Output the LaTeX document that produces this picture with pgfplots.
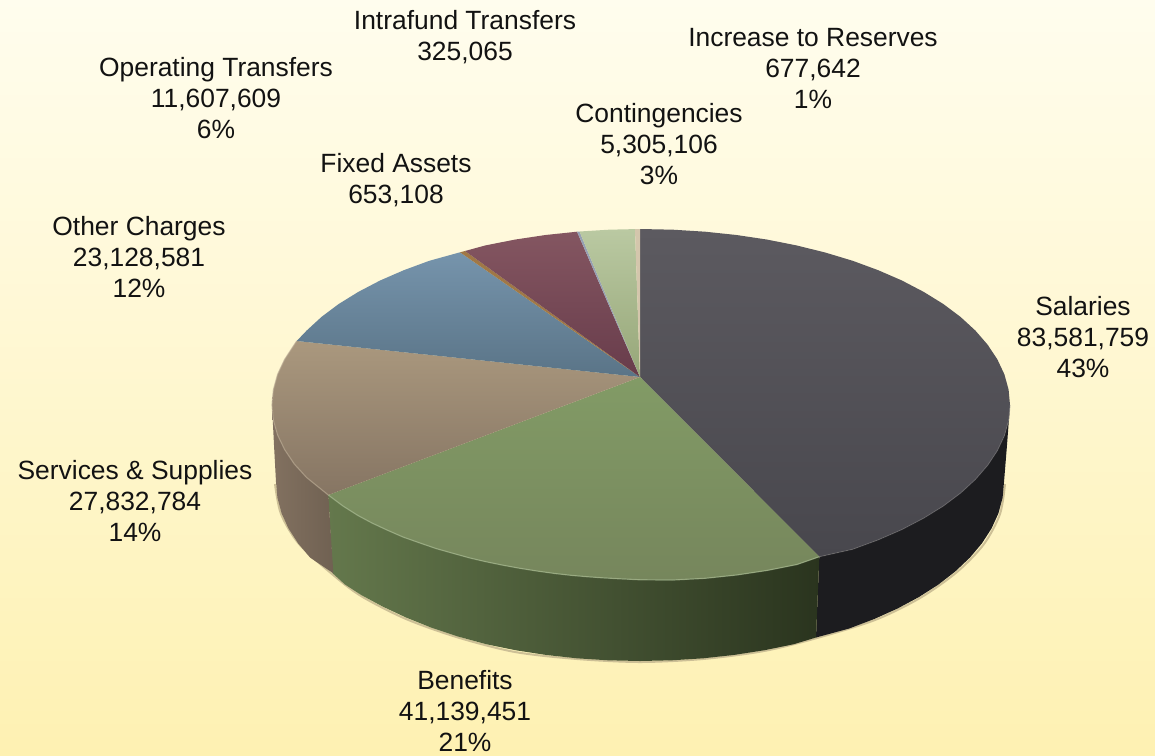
\documentclass[border=0pt]{standalone}
\usepackage{fontspec}
\setmainfont{Liberation Sans}
\usepackage{pgfplots}
\pgfplotsset{compat=1.18}
\definecolor{bgT}{RGB}{255,253,238}
\definecolor{bgB}{RGB}{254,241,178}
\definecolor{salT}{RGB}{92,90,96}
\definecolor{salB}{RGB}{72,71,77}
\definecolor{salS}{RGB}{28,28,31}
\definecolor{benT}{RGB}{130,155,102}
\definecolor{benB}{RGB}{118,134,92}
\definecolor{benSL}{RGB}{100,120,76}
\definecolor{benSR}{RGB}{42,52,30}
\definecolor{svcT}{RGB}{170,152,126}
\definecolor{svcB}{RGB}{134,117,99}
\definecolor{svcSL}{RGB}{130,113,96}
\definecolor{svcSR}{RGB}{112,97,82}
\definecolor{othT}{RGB}{118,148,172}
\definecolor{othB}{RGB}{90,116,135}
\definecolor{fixT}{RGB}{160,120,70}
\definecolor{opeT}{RGB}{132,86,97}
\definecolor{opeB}{RGB}{104,60,75}
\definecolor{intT}{RGB}{150,160,180}
\definecolor{conT}{RGB}{186,201,162}
\definecolor{conB}{RGB}{150,166,120}
\definecolor{resT}{RGB}{212,198,172}
\definecolor{shadow}{RGB}{205,192,150}
\definecolor{txt}{RGB}{18,18,18}
\tikzset{lab/.style={align=center, inner sep=0pt, font=\fontsize{13.2}{15.5}\selectfont, text=txt}}
\begin{document}
\begin{tikzpicture}
\begin{axis}[
  scale only axis, width=577.5pt, height=377.5pt,
  xmin=0, xmax=1155, ymin=0, ymax=755, y dir=reverse,
  axis lines=none, ticks=none, no markers,
  every axis plot/.append style={line join=round},
]
% background
\addplot[draw=none, top color=bgT, bottom color=bgB] coordinates {(0,0)(1155,0)(1155,755)(0,755)} --cycle;
% soft edge below the pie
\addplot[draw=shadow, line width=1pt, smooth] coordinates {(1005,484)(1000,514)(984,544)(957,572)(920,598)(875,620)(817,638)(764,651)(703,659)(640,662)(577,659)(515,652)(458,637.5)(406,619)(361,596)(332,574)(299,544)(281,514)(275,484)};
% sides
\addplot[draw=none, fill=salS] coordinates {(1010,405)(1008.6,420.3)(1004.4,435.6)(997.4,450.5)(987.7,465.2)(975.4,479.4)(960.6,493)(943.3,506)(923.7,518.1)(901.9,529.5)(878.2,539.8)(852.7,549.2)(819.3,556.7)(816,637.5)(848.8,628.6)(874,619.1)(897.4,608.6)(918.8,597.1)(938.2,584.7)(955.2,571.5)(969.9,557.6)(982,543.2)(991.6,528.3)(998.5,513.1)(1002.6,497.6)(1004,482)(1007,445)} --cycle;
\addplot[draw=none, left color=benSL, right color=benSR] coordinates {(328.3,495)(343,506)(358,515.5)(372,523)(387,530)(403,537)(420,543)(436,548.5)(453,553.3)(470,558)(485,561.5)(502,565)(520,568.3)(537,571)(555,573.5)(571,575.3)(587,576.7)(604,577.9)(620,578.8)(641,579.8)(673,580)(705.1,578.3)(736.5,575)(767.2,570.4)(796.9,564.5)(819.3,556.7)(816,637.5)(793.8,644.2)(764.5,650.2)(734.2,654.9)(703.2,658.3)(671.7,660.3)(640,661)(608.3,660.3)(576.8,658.3)(545.8,654.9)(515.5,650.2)(486.2,644.2)(458,636.5)(431.2,627.6)(406,617.5)(382.6,606.5)(361.2,595)(345,584.5)(332.7,573.3)} --cycle;
\addplot[draw=none, left color=svcSL, right color=svcSR] coordinates {(272,405)(273.4,420.3)(277.6,435)(284.6,449.5)(294.3,464)(306.6,477.5)(328.3,495)(333.3,573.3)(310.1,557.6)(298,543.2)(288.4,528.3)(281.5,513.1)(277.4,497.6)(276,482)(274,445)} --cycle;
% top face
\addplot[draw=none, top color=salT, bottom color=salB] coordinates {(640,377)(640,229)(673.2,229.7)(705.1,231.7)(736.5,235)(767.2,239.6)(796.9,245.5)(825.5,252.6)(852.7,260.8)(878.2,270.2)(901.9,280.5)(923.7,291.9)(943.3,304)(960.6,317)(975.4,330.6)(987.7,344.8)(997.4,359.5)(1004.4,374.4)(1008.6,389.7)(1010,405)(1008.6,420.3)(1004.4,435.6)(997.4,450.5)(987.7,465.2)(975.4,479.4)(960.6,493)(943.3,506)(923.7,518.1)(901.9,529.5)(878.2,539.8)(852.7,549.2)(819.3,556.7)} --cycle;
\addplot[draw=none, top color=benT, bottom color=benB] coordinates {(640,377)(819.3,556.7)(796.9,564.5)(767.2,570.4)(736.5,575)(705.1,578.3)(673,580)(641,579.8)(620,578.8)(604,577.9)(587,576.7)(571,575.3)(555,573.5)(537,571)(520,568.3)(502,565)(485,561.5)(470,558)(453,553.3)(436,548.5)(420,543)(403,537)(387,530)(372,523)(358,515.5)(343,506)(328.3,495)} --cycle;
\addplot[draw=none, top color=svcT, bottom color=svcB] coordinates {(640,377)(328.3,495)(306.6,477.5)(294.3,464)(284.6,449.5)(277.6,435)(273.4,420.3)(272,405)(273.4,389.7)(277.6,374.4)(284.6,359.5)(296.7,341)} --cycle;
\addplot[draw=none, top color=othT, bottom color=othB] coordinates {(640,377)(296.7,341)(306.6,330.6)(321.4,317)(338.7,304)(358.3,291.9)(380.1,280.5)(403.8,270.2)(429.3,260.8)(460,252.3)} --cycle;
\addplot[draw=none, fill=fixT] coordinates {(640,377)(460,252.3)(465,251)} --cycle;
\addplot[draw=none, top color=opeT, bottom color=opeB] coordinates {(640,377)(465,251)(485.1,245.5)(514.8,239.6)(545.5,235)(577,231.7)} --cycle;
\addplot[draw=none, fill=intT] coordinates {(640,377)(577,231.7)(579.5,231.5)} --cycle;
\addplot[draw=none, top color=conT, bottom color=conB] coordinates {(640,377)(579.5,231.5)(608.8,229.7)(635,229.1)} --cycle;
\addplot[draw=none, fill=resT] coordinates {(640,377)(635,229.1)(640,229)} --cycle;
% rim highlights
\addplot[draw=benT!75!white, line width=.6pt, opacity=.7] coordinates {(328.3,495)(343,506)(358,515.5)(372,523)(387,530)(403,537)(420,543)(436,548.5)(453,553.3)(470,558)(485,561.5)(502,565)(520,568.3)(537,571)(555,573.5)(571,575.3)(587,576.7)(604,577.9)(620,578.8)(641,579.8)(673,580)(705.1,578.3)(736.5,575)(767.2,570.4)(796.9,564.5)(819.3,556.7)};
\addplot[draw=svcT!85!white, line width=.6pt, opacity=.6] coordinates {(328.3,495)(306.6,477.5)(294.3,464)(284.6,449.5)(277.6,435)(273.4,420.3)(272,405)(273.4,389.7)(277.6,374.4)(284.6,359.5)(296.7,341)};
\addplot[draw=salT!85!white, line width=.5pt, opacity=.5] coordinates {(1010,405)(1008.6,420.3)(1004.4,435.6)(997.4,450.5)(987.7,465.2)(975.4,479.4)(960.6,493)(943.3,506)(923.7,518.1)(901.9,529.5)(878.2,539.8)(852.7,549.2)(819.3,556.7)};
% labels
\node[lab] at (axis cs:1083,337) {Salaries\\83,581,759\\43\%};
\node[lab] at (axis cs:465,711) {Benefits\\41,139,451\\21\%};
\node[lab] at (axis cs:135,501) {Services \& Supplies\\27,832,784\\14\%};
\node[lab] at (axis cs:139,257) {Other Charges\\23,128,581\\12\%};
\node[lab] at (axis cs:216,98) {Operating Transfers\\11,607,609\\6\%};
\node[lab] at (axis cs:396,180) {Fixed Assets\\653,108};
\node[lab] at (axis cs:465,37) {Intrafund Transfers\\325,065};
\node[lab] at (axis cs:813,68) {Increase to Reserves\\677,642\\1\%};
\node[lab] at (axis cs:659,144) {Contingencies\\5,305,106\\3\%};
\end{axis}
\end{tikzpicture}
\end{document}
